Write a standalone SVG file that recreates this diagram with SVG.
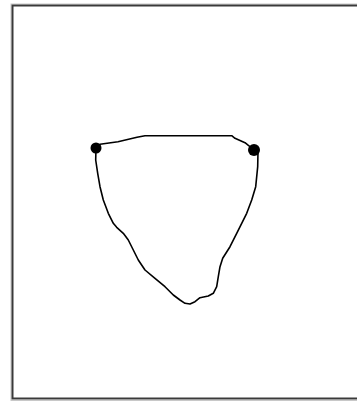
<svg xmlns="http://www.w3.org/2000/svg" width="357" height="401" viewBox="0 0 357 401">
<style>
.frame{fill:none;stroke:#3a3a3a;stroke-width:2}
.shade{fill:none;stroke:#c8c8c8;stroke-width:1}
.curve{fill:none;stroke:#000;stroke-width:1.6;stroke-linejoin:round;stroke-linecap:round}
.dot{fill:#000}
</style>
<rect x="0" y="0" width="357" height="401" fill="#fff"/>
<g id="frame">
<rect class="shade" x="11" y="4" width="360" height="396.5"/>
<rect class="frame" x="12.5" y="5.5" width="360" height="393"/>
</g>
<g id="connectors">
<path class="curve" d="M96,148 L100,144.3 L118,141.7 L137,137.3 L145,135.7 L231.7,135.7 L235,138.3 L245,142.7 L254,150 L258,151 L257.7,166.7 L255.7,186.7 L251.7,200 L246.7,213.3 L241.7,223.3 L236.7,233.3 L230,246.7 L222.7,258.3 L220,266.7 L218.3,276.7 L216.7,286.7 L213.3,293.3 L208.3,296 L200,297.7 L195,301.7 L190,304 L185,303.3 L180,300 L173.3,295 L165,286.7 L155,278.3 L145,270 L138.3,260 L133.3,250 L128.3,240 L123.3,233.3 L116.7,227.3 L113.3,223.3 L108.3,213.3 L103.3,200 L100,186.7 L97.7,173.3 L95.7,160 L96,148"/>
</g>
<g id="node-left"><circle class="dot" cx="96" cy="148" r="5.5"/></g>
<g id="node-right"><circle class="dot" cx="254" cy="150" r="6"/></g>
</svg>
